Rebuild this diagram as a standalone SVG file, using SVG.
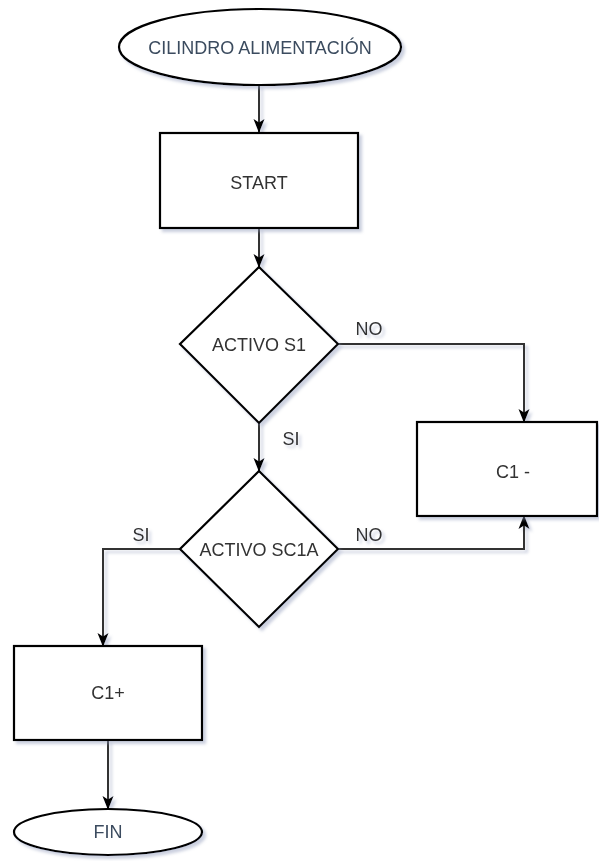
<svg xmlns="http://www.w3.org/2000/svg" width="599" height="861" viewBox="0 0 599 861">
  <style>
    .shape { fill: #ffffff; stroke: #000000; stroke-width: 2.2; }
    .edge { fill: none; stroke: #333333; stroke-width: 2; }
    .label { font-family: "Liberation Sans", Arial, sans-serif; font-size: 18px; fill: #333333; text-anchor: middle; }
    .term { fill: #3b4b5e; }
  </style>
  <defs>
    <filter id="shadow" x="-10%" y="-10%" width="130%" height="130%">
      <feGaussianBlur in="SourceAlpha" stdDeviation="1.6"/>
      <feOffset dx="3" dy="3" result="off"/>
      <feFlood flood-color="#8c97b8" flood-opacity="0.45"/>
      <feComposite in2="off" operator="in"/>
      <feMerge>
        <feMergeNode/>
        <feMergeNode in="SourceGraphic"/>
      </feMerge>
    </filter>
    <marker id="arrow" viewBox="0 0 14 12" refX="13" refY="6" markerWidth="14" markerHeight="12" markerUnits="userSpaceOnUse" orient="auto">
      <path d="M0,0.5 L14,6 L0,11.5 L3.5,6 Z" fill="#000000"/>
    </marker>
  </defs>

  <rect width="599" height="861" fill="#ffffff"/>

  <!-- connectors -->
  <g id="connectors" filter="url(#shadow)">
    <path class="edge" d="M259,85 V132" marker-end="url(#arrow)"/>
    <path class="edge" d="M259,228 V267" marker-end="url(#arrow)"/>
    <path class="edge" d="M338,344 H524 V422" marker-end="url(#arrow)"/>
    <path class="edge" d="M259,423 V471" marker-end="url(#arrow)"/>
    <path class="edge" d="M338,549 H524 V516" marker-end="url(#arrow)"/>
    <path class="edge" d="M180,549 H103 V646" marker-end="url(#arrow)"/>
    <path class="edge" d="M108,740 V809" marker-end="url(#arrow)"/>
    <text class="label" x="369" y="335">NO</text>
    <text class="label" x="291" y="445">SI</text>
    <text class="label" x="369" y="541">NO</text>
    <text class="label" x="141" y="541">SI</text>
  </g>

  <!-- nodes -->
  <g id="cilindro" filter="url(#shadow)">
    <ellipse class="shape" cx="260" cy="47" rx="141" ry="38"/>
    <text class="label term" x="260" y="54">CILINDRO ALIMENTACIÓN</text>
  </g>

  <g id="start" filter="url(#shadow)">
    <rect class="shape" x="160" y="133" width="198" height="95"/>
    <text class="label" x="259" y="189">START</text>
  </g>

  <g id="activo-s1" filter="url(#shadow)">
    <polygon class="shape" points="259,267 338,344 259,423 180,344"/>
    <text class="label" x="259" y="351">ACTIVO S1</text>
  </g>

  <g id="c1-menos" filter="url(#shadow)">
    <rect class="shape" x="417" y="422" width="180" height="94"/>
    <text class="label" x="513" y="478">C1 -</text>
  </g>

  <g id="activo-sc1a" filter="url(#shadow)">
    <polygon class="shape" points="259,471 338,549 259,627 180,549"/>
    <text class="label" x="259" y="556">ACTIVO SC1A</text>
  </g>

  <g id="c1-mas" filter="url(#shadow)">
    <rect class="shape" x="14" y="646" width="188" height="94"/>
    <text class="label" x="108" y="699">C1+</text>
  </g>

  <g id="fin" filter="url(#shadow)">
    <ellipse class="shape" cx="108" cy="832" rx="94" ry="23"/>
    <text class="label term" x="108" y="838">FIN</text>
  </g>
</svg>
